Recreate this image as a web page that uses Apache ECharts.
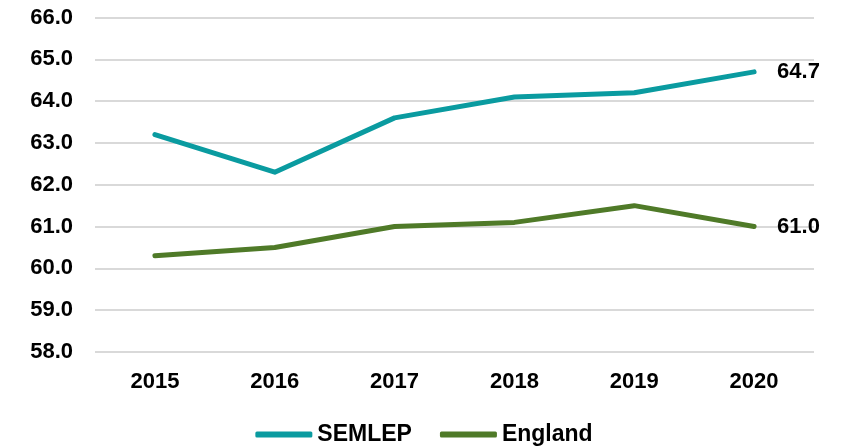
<!DOCTYPE html>
<html>
<head>
<meta charset="utf-8">
<script src="https://cdn.jsdelivr.net/npm/echarts@6/dist/echarts.min.js"></script>
<style>
  html, body { margin: 0; padding: 0; background: #fff; }
  #chart { width: 848px; height: 446px; }
</style>
</head>
<body>
<div id="chart"></div>
<script>
const years = ["2015", "2016", "2017", "2018", "2019", "2020"];
const semlep = [63.2, 62.3, 63.6, 64.1, 64.2, 64.7];
const england = [60.3, 60.5, 61.0, 61.1, 61.5, 61.0];

const font = "'Liberation Sans', Arial, sans-serif";
const labelText = { fontFamily: font, fontWeight: "bold", fontSize: 22, color: "#000" };

const chart = echarts.init(document.getElementById("chart"));
chart.setOption({
  animation: false,
  grid: { left: 95, right: 34, top: 17.5, bottom: 94 },
  legend: {
    top: 418,
    left: "center",
    itemWidth: 57,
    itemHeight: 6,
    itemGap: 28,
    icon: "roundRect",
    textStyle: { ...labelText, fontSize: 23 },
    data: ["SEMLEP", "England"],
  },
  xAxis: {
    type: "category",
    data: years,
    axisLine: { show: false },
    axisTick: { show: false },
    axisLabel: { ...labelText, margin: 19 },
  },
  yAxis: {
    type: "value",
    min: 58,
    max: 66,
    interval: 1,
    axisLine: { show: false },
    axisTick: { show: false },
    axisLabel: { ...labelText, margin: 22, formatter: (v) => v.toFixed(1) },
    splitLine: { lineStyle: { color: "#d9d9d9", width: 2 } },
  },
  series: [
    {
      name: "SEMLEP",
      type: "line",
      data: semlep,
      symbol: "none",
      color: "#0a9ba0",
      lineStyle: { width: 5, cap: "round", join: "round" },
      endLabel: { show: true, distance: 23, formatter: (p) => p.value.toFixed(1), ...labelText },
    },
    {
      name: "England",
      type: "line",
      data: england,
      symbol: "none",
      color: "#4f7a28",
      lineStyle: { width: 5, cap: "round", join: "round" },
      endLabel: { show: true, distance: 23, formatter: (p) => p.value.toFixed(1), ...labelText },
    },
  ],
});
</script>
</body>
</html>
